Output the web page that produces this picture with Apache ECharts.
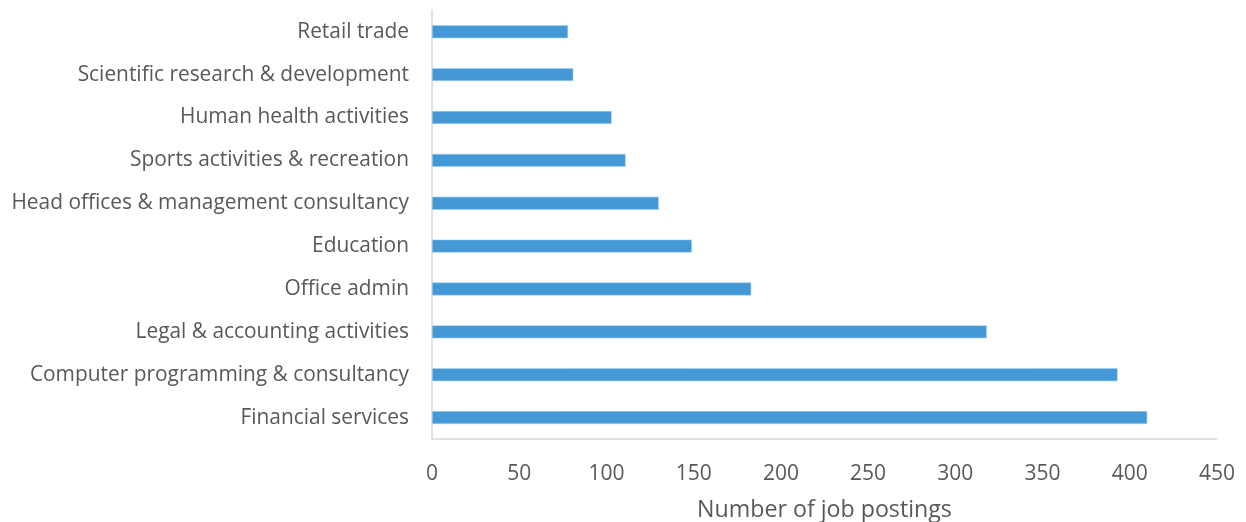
<!DOCTYPE html>
<html><head><meta charset="utf-8">
<script src="https://cdn.jsdelivr.net/npm/echarts@6/dist/echarts.min.js"></script>
<style>html,body{margin:0;padding:0;background:#fff}#c{width:1246px;height:522px}</style>
</head><body><div id="c"></div>
<script>
const categories = [
  "Retail trade",
  "Scientific research & development",
  "Human health activities",
  "Sports activities & recreation",
  "Head offices & management consultancy",
  "Education",
  "Office admin",
  "Legal & accounting activities",
  "Computer programming & consultancy",
  "Financial services"
];
const values = [78, 81, 103, 111, 130, 149, 183, 318, 393, 410];
const xTicks = { min: 0, max: 450, interval: 50 };
const axisName = "Number of job postings";

const FONT = "Open Sans";
const chart = echarts.init(document.getElementById('c'), null, { renderer: 'canvas' });
chart.setOption({
  animation: false,
  grid: { left: 432, right: 29, top: 10.3, bottom: 83, containLabel: false, outerBoundsMode: 'none' },
  xAxis: {
    type: 'value', min: xTicks.min, max: xTicks.max, interval: xTicks.interval,
    axisLine: { show: true, lineStyle: { color: '#d9d9d9', width: 1.5 } },
    axisTick: { show: false },
    splitLine: { show: false },
    axisLabel: { color: '#595959', fontSize: 21, fontFamily: FONT, margin: 25 },
    name: axisName, nameLocation: 'middle', nameGap: 60,
    nameTextStyle: { color: '#595959', fontSize: 23.2, fontFamily: FONT }
  },
  yAxis: {
    type: 'category', data: categories, inverse: true,
    axisLine: { show: true, lineStyle: { color: '#d9d9d9', width: 1.5 } },
    axisTick: { show: false },
    axisLabel: { color: '#595959', fontSize: 20.9, fontFamily: FONT, margin: 23 }
  },
  series: [{
    type: 'bar', data: values, barWidth: 13,
    itemStyle: { color: '#4398d5', borderColor: '#a9d0ee', borderWidth: 0.6 }
  }]
});
</script></body></html>
